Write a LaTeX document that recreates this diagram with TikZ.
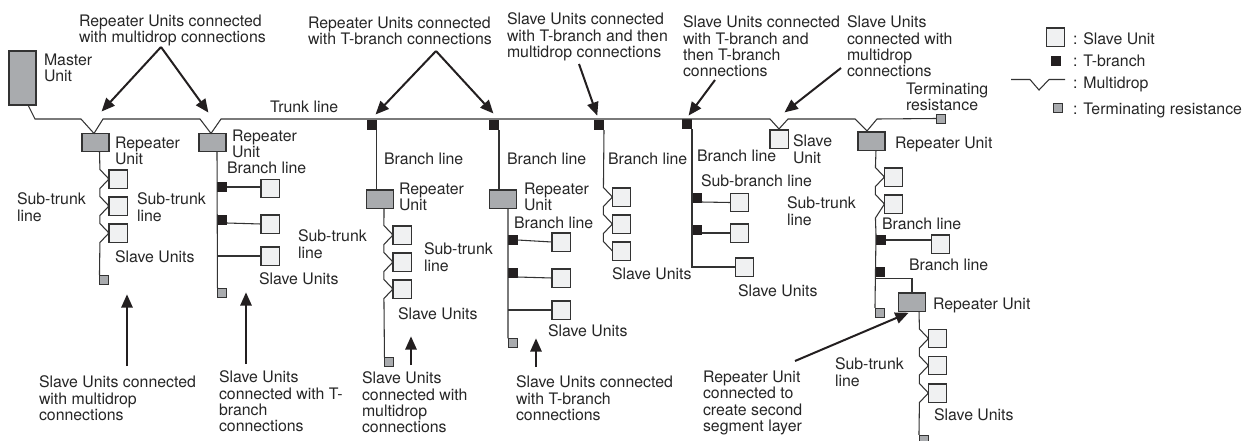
\documentclass[tikz,border=0pt]{standalone}
\usepackage{fontspec}
\setmainfont{TeX Gyre Heros}
\usetikzlibrary{arrows.meta,calc}
\definecolor{ink}{HTML}{333333}
\definecolor{unitgray}{HTML}{A9ABAE}
\definecolor{slavefill}{HTML}{F0F1F2}
\definecolor{tblack}{HTML}{231F20}
\tikzset{
  unitbox/.style={draw=ink,line width=0.85pt,inner sep=0pt,outer sep=0pt},
  slave/.style={unitbox,fill=slavefill,minimum width=13.6pt,minimum height=13.6pt},
  repeater/.style={unitbox,fill=unitgray,minimum width=20.3pt,minimum height=13.6pt},
  master/.style={unitbox,fill=unitgray,minimum width=20.3pt,minimum height=40.5pt},
  tbranch/.style={fill=tblack,inner sep=0pt,outer sep=0pt,minimum width=7.5pt,minimum height=7.5pt},
  term/.style={unitbox,fill=unitgray,line width=0.7pt,minimum width=6.8pt,minimum height=6.8pt},
  wire/.style={draw=ink,line width=0.8pt,line join=miter},
  pointer/.style={draw=tblack,line width=1.5pt,-{Triangle[length=10pt,width=8.5pt]},shorten >=-0.5pt},
  lab/.style={anchor=north west,inner sep=0pt,outer sep=0pt,align=left,text=black!85,
    font=\fontsize{11.9}{12.25}\selectfont},
}
\newcommand\dropin[1]{-- ($(#1.west)+(-9,-9.5)$) -- (#1.west) -- ($(#1.west)+(-9,9.5)$)}
\begin{document}
\begin{tikzpicture}[x=0.75pt,y=-0.75pt]
\useasboundingbox (0,0) rectangle (1250,440);
% ---------- units
\node[master] (master) at (22.5,78) {};
\node[repeater] (r1) at (95.5,142.5) {};
\node[repeater] (r2) at (212.5,142.5) {};
\node[repeater] (r3) at (380,199) {};
\node[repeater] (r4) at (503,199) {};
\node[repeater] (r5) at (871.5,141) {};
\node[repeater] (r6) at (912,302) {};
% column 1
\node[slave] (s11) at (118,179) {};
\node[slave] (s12) at (118,206) {};
\node[slave] (s13) at (118,233) {};
\node[term] (e1) at (104,279.5) {};
% column 2
\node[tbranch] (t21) at (222,187) {};
\node[tbranch] (t22) at (222,219.5) {};
\node[slave] (s21) at (270,188.5) {};
\node[slave] (s22) at (270,224) {};
\node[slave] (s23) at (270,256) {};
\node[term] (e2) at (222,292.5) {};
% column 3
\node[tbranch] (t3) at (371.5,125) {};
\node[slave] (s31) at (402,235) {};
\node[slave] (s32) at (402,262) {};
\node[slave] (s33) at (402,289) {};
\node[term] (e3) at (389,362) {};
% column 4
\node[tbranch] (t4) at (494,125) {};
\node[tbranch] (t41) at (512.5,240) {};
\node[tbranch] (t42) at (512.5,273) {};
\node[slave] (s41) at (561,242) {};
\node[slave] (s42) at (561,278) {};
\node[slave] (s43) at (561,310) {};
\node[term] (e4) at (512.5,343) {};
% column 5
\node[tbranch] (t5) at (599,125) {};
\node[slave] (s51) at (621.5,197) {};
\node[slave] (s52) at (621.5,224) {};
\node[slave] (s53) at (621.5,251) {};
% column 6
\node[tbranch] (t6) at (687,124) {};
\node[tbranch] (t61) at (696.5,197.5) {};
\node[tbranch] (t62) at (696.5,230) {};
\node[slave] (s61) at (739.5,202.5) {};
\node[slave] (s62) at (739.5,233) {};
\node[slave] (s63) at (744.5,267) {};
% multidrop slave on the trunk
\node[slave] (s0) at (779,139) {};
% column 7
\node[slave] (s71) at (893.5,177) {};
\node[slave] (s72) at (893.5,204) {};
\node[tbranch] (t71) at (881,240) {};
\node[tbranch] (t72) at (880,272) {};
\node[slave] (s73) at (940.5,244) {};
\node[term] (e7) at (879.5,312.5) {};
\node[term] (e0) at (940.5,118.5) {};
% column 8
\node[slave] (s81) at (937.5,338.5) {};
\node[slave] (s82) at (937.5,365.5) {};
\node[slave] (s83) at (937.5,393) {};
\node[term] (e8) at (923.5,439.5) {};
% ---------- trunk line
\draw[wire] ($(master.south)+(5.5,0)$) -- (35,119) -- (81,119) -- ($(r1.north)+(-1.5,0)$) -- (103,119)
  -- (200,119) -- ($(r2.north)+(-1.5,0)$) -- (221,119) -- (770,119)
  -- ($(s0.north)+(0,-1)$) -- (788,119) -- (855,119) -- ($(r5.north)+(-4.5,-1)$) -- (877,119) -- (e0.west);
% ---------- column 1
\coordinate (c1) at ($(r1.south)+(4,0)$);
\draw[wire] (c1) \dropin{s11} \dropin{s12} \dropin{s13} -- (e1.north west);
% ---------- column 2
\draw[wire] ($(r2.south)+(4.5,0)$) -- (e2.north west);
\draw[wire] (t21.east) -- (s21.west |- t21.east);
\draw[wire] ($(t22.east)+(0,3.5)$) -- (s22.west);
\draw[wire] (s23.west) -- (s23.west -| e2.west);
% ---------- column 3
\draw[wire] (t3.south east) -- (r3.north west -| t3.south east);
\coordinate (c3) at ($(r3.south)+(4,0)$);
\draw[wire] (c3) \dropin{s31} \dropin{s32} \dropin{s33} -- (e3.north west);
% ---------- column 4
\draw[wire] (t4.south east) -- (r4.north west -| t4.south east);
\draw[wire] ($(r4.south)+(5,0)$) -- (e4.north west);
\draw[wire] (t41.east) -- (s41.west);
\draw[wire] ($(t42.east)+(0,4)$) -- (s42.west);
\draw[wire] (s43.west) -- (s43.west -| e4.west);
% ---------- column 5
\draw[wire] (t5.south east) -- ($(s51.west)+(-9,-9.5)$) -- (s51.west) -- ($(s51.west)+(-9,9.5)$)
  \dropin{s52} -- ($(s53.west)+(-9,-9.5)$) -- (s53.west);
% ---------- column 6
\draw[wire] (t6.south east) |- (s63.west);
\draw[wire] ($(t61.east)+(0,4.5)$) -- (s61.west);
\draw[wire] ($(t62.east)+(0,3)$) -- (s62.west);
% ---------- column 7
\coordinate (c7) at ($(r5.south)+(4.5,0)$);
\draw[wire] (c7) \dropin{s71} -- ($(s72.west)+(-9,-9.5)$) -- (s72.west) -- ($(s72.west)+(-9,14)$) -- (876,235) -- (e7.north west);
\draw[wire] (t71.east) -- (s73.west |- t71.east);
\draw[wire] (875.5,278.5) -| (r6.north);
% ---------- column 8
\coordinate (c8) at ($(r6.south)+(7,0)$);
\draw[wire] (c8) \dropin{s81} \dropin{s82} \dropin{s83} -- (e8.north west);
% ---------- legend
\node[slave] (ls) at (1055.5,37) {};
\node[tbranch] (lt) at (1056,61) {};
\coordinate (lm1) at (1011,79.5);
\coordinate (lm2) at (1065,79.5);
\draw[wire] (lm1) -- (1030,79.5) -- (1039,90) -- (1049,79.5) -- (lm2);
\node[term] (le) at (1057.5,108) {};
% ---------- labels
\node[lab] (a) at (79,15) {Repeater Units connected\\with multidrop connections};
\node[lab] (b) at (308,17) {Repeater Units connected\\with T-branch connections};
\node[lab] (c) at (507,13) {Slave Units connected\\with T-branch and then\\multidrop connections};
\node[lab] (d) at (683,16) {Slave Units connected\\with T-branch and\\then T-branch\\connections};
\node[lab] (f) at (847,16) {Slave Units\\connected with\\multidrop\\connections};
\node[lab] (l1) at (44,54) {Master\\Unit};
\node[lab] (l2) at (270,101) {Trunk line};
\node[lab] (l3) at (906,83) {Terminating\\resistance};
\node[lab] (l4) at (115,137) {Repeater\\Unit};
\node[lab] (l5) at (232,130) {Repeater\\Unit};
\node[lab] (l6) at (227,162) {Branch line};
\node[lab] (l7) at (17,193) {Sub-trunk\\line};
\node[lab] (l8) at (137,193) {Sub-trunk\\line};
\node[lab] (l9) at (115,251) {Slave Units};
\node[lab] (l10) at (298,230) {Sub-trunk\\line};
\node[lab] (l11) at (259,273) {Slave Units};
\node[lab] (g) at (39,376) {Slave Units connected\\with multidrop\\connections};
\node[lab] (h) at (219,371) {Slave Units\\connected with T-\\branch\\connections};
\node[lab] (l12) at (384,153) {Branch line};
\node[lab] (l13) at (399,183) {Repeater\\Unit};
\node[lab] (l14) at (424,243) {Sub-trunk\\line};
\node[lab] (l15) at (398,308) {Slave Units};
\node[lab] (l16) at (507,153) {Branch line};
\node[lab] (l17) at (524,183) {Repeater\\Unit};
\node[lab] (l18) at (514,217) {Branch line};
\node[lab] (l19) at (548,325) {Slave Units};
\node[lab] (i) at (362,372) {Slave Units\\connected with\\multidrop\\connections};
\node[lab] (j) at (516,376) {Slave Units connected\\with T-branch\\connections};
\node[lab] (l20) at (608,153) {Branch line};
\node[lab] (l21) at (612,268) {Slave Units};
\node[lab] (l22) at (697,150) {Branch line};
\node[lab] (l23) at (701,175) {Sub-branch line};
\node[lab] (l24) at (787,197) {Sub-trunk\\line};
\node[lab] (l25) at (738,285) {Slave Units};
\node[lab] (l26) at (793,135) {Slave\\Unit};
\node[lab] (l27) at (895,137) {Repeater Unit};
\node[lab] (l28) at (882,218) {Branch line};
\node[lab] (l29) at (909,259) {Branch line};
\node[lab] (l30) at (933,298) {Repeater Unit};
\node[lab] (l31) at (934,409) {Slave Units};
\node[lab] (l32) at (835,358) {Sub-trunk\\line};
\node[lab] (k) at (703,371) {Repeater Unit\\connected to\\create second\\segment layer};
\node[lab] (k1) at (1073,33) {: Slave Unit};
\node[lab] (k2) at (1073,55) {: T-branch};
\node[lab] (k3) at (1073,77) {: Multidrop};
\node[lab] (k4) at (1073,103) {: Terminating resistance};
% ---------- pointers
\coordinate (pa) at (161,47);
\coordinate (pa1) at (102,111);
\coordinate (pa2) at (208,112);
\coordinate (pb) at (436,51);
\coordinate (pb1) at (376,114);
\coordinate (pb2) at (493,113);
\draw[pointer] (pa) -- (pa1);
\draw[pointer] (pa) -- (pa2);
\draw[pointer] (pb) -- (pb1);
\draw[pointer] (pb) -- (pb2);
\coordinate (pc) at (579,64);
\coordinate (pc1) at (597,115);
\draw[pointer] (pc) -- (pc1);
\coordinate (pd) at (715,80);
\coordinate (pd1) at (689,115);
\draw[pointer] (pd) -- (pd1);
\coordinate (pf) at (841,68);
\coordinate (pf1) at (785,112);
\draw[pointer] (pf) -- (pf1);
\coordinate (pg) at (127,366);
\coordinate (pg1) at (127,295);
\draw[pointer] (pg) -- (pg1);
\coordinate (ph) at (246,364);
\coordinate (ph1) at (246,293);
\draw[pointer] (ph) -- (ph1);
\coordinate (pi) at (411,365);
\coordinate (pi1) at (411,337);
\draw[pointer] (pi) -- (pi1);
\coordinate (pj) at (536,367);
\coordinate (pj1) at (536,339);
\draw[pointer] (pj) -- (pj1);
\coordinate (pk) at (795,361);
\coordinate (pk1) at (908,313);
\draw[pointer] (pk) -- (pk1);
\end{tikzpicture}
\end{document}
